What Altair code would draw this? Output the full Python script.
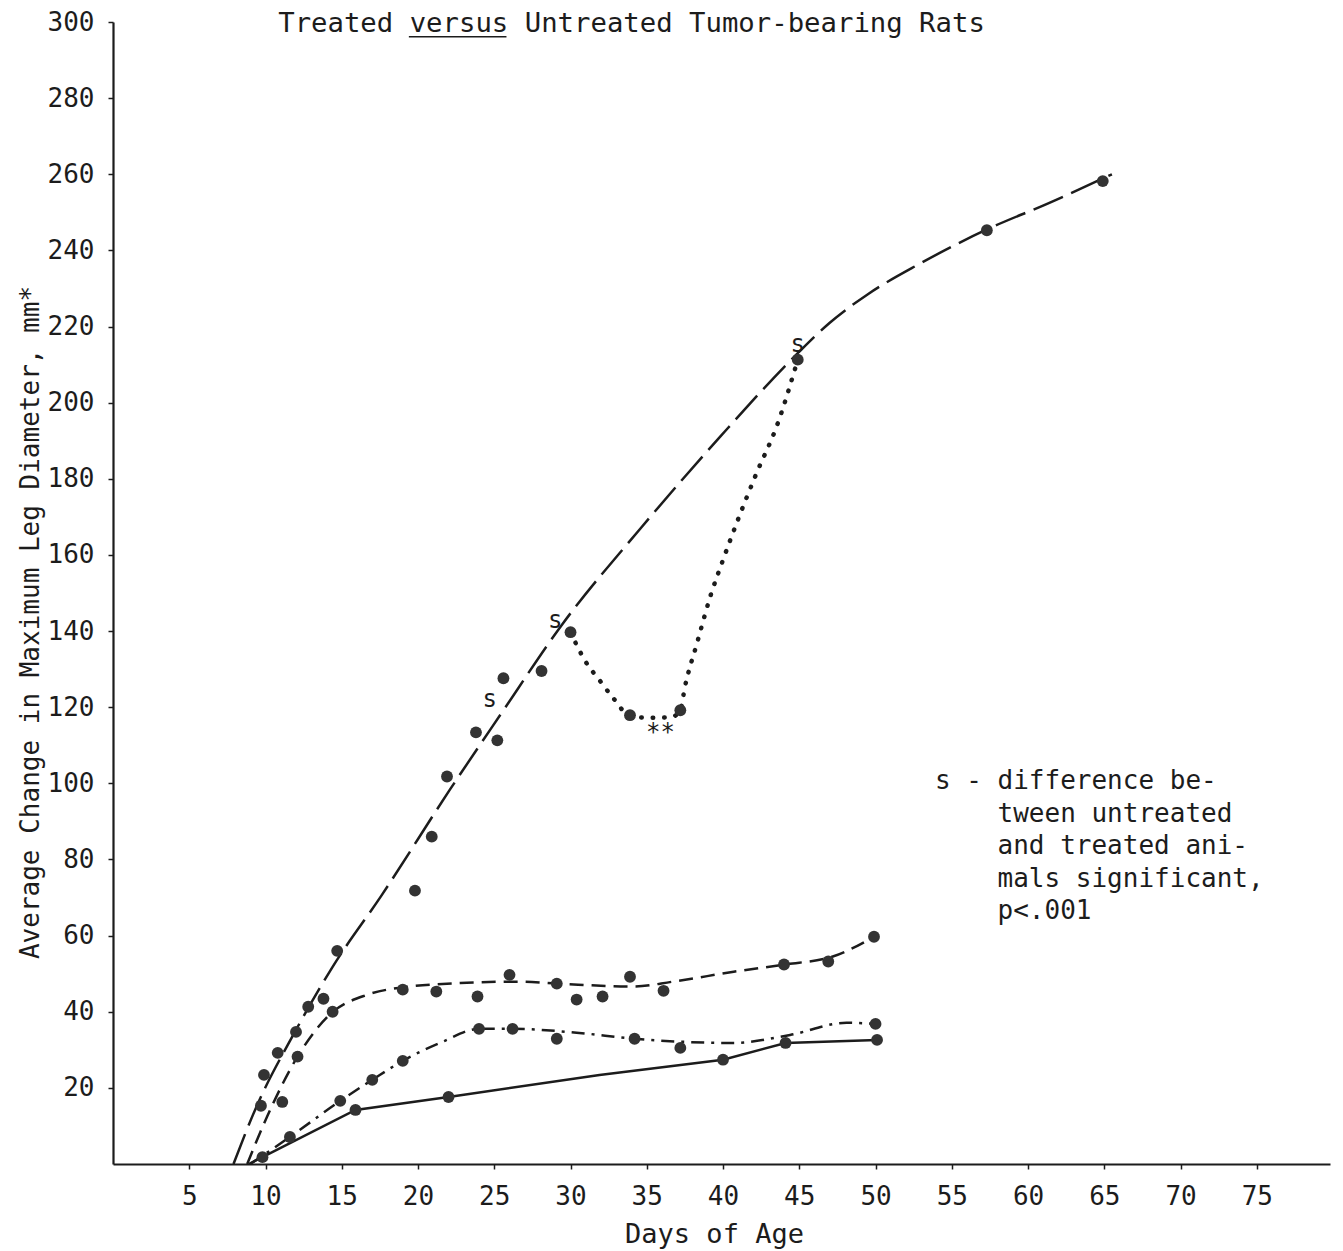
import altair as alt
import pandas as pd

# ---------------- data ----------------
# plotted points, grouped by curve
pts_long_days = [9.9, 10.8, 12.0, 12.8, 13.8, 14.7, 19.8, 20.9, 21.9, 23.8, 25.2, 25.6, 28.1, 30.0, 44.9, 57.3, 64.9]
pts_long_vals = [23.4, 29.2, 34.7, 41.3, 43.4, 56.0, 71.8, 86.0, 101.8, 113.4, 111.3, 127.6, 129.5, 139.7, 211.3, 245.3, 258.2]

pts_dotted_days = [33.9, 37.2]
pts_dotted_vals = [117.9, 119.2]

pts_short_days = [9.7, 11.1, 12.1, 14.4, 19.0, 21.2, 23.9, 26.0, 29.1, 30.4, 32.1, 33.9, 36.1, 44.0, 46.9, 49.9]
pts_short_vals = [15.3, 16.3, 28.2, 40.0, 45.8, 45.3, 44.0, 49.7, 47.4, 43.2, 44.0, 49.2, 45.5, 52.4, 53.2, 59.7]

pts_dashdot_days = [11.6, 14.9, 17.0, 19.0, 24.0, 26.2, 29.1, 34.2, 37.2, 50.0]
pts_dashdot_vals = [7.1, 16.6, 22.1, 27.1, 35.5, 35.5, 32.9, 32.9, 30.5, 36.8]

pts_solid_days = [9.8, 15.9, 22.0, 40.0, 44.1, 50.1]
pts_solid_vals = [1.8, 14.2, 17.6, 27.4, 31.8, 32.6]

# hand-fitted curves
curve_long_days = [7.9, 9.4, 11.9, 14.4, 17.6, 22.1, 25.4, 29.5, 34.6, 39.8, 44.9, 47.0, 49.5, 52.9, 57.3, 61.4, 65.5]
curve_long_vals = [0, 15, 34.5, 51.8, 70.5, 98.4, 118, 142, 167, 191, 213, 221, 228.5, 236.5, 245.5, 252.5, 260]

curve_dotted_days = [30.0, 31.0, 31.9, 32.8, 33.9, 35.3, 36.6, 37.2, 37.5, 38.3, 39.15, 40.0, 41.05, 42.2, 43.5, 44.9]
curve_dotted_vals = [139.7, 131.9, 127.1, 122.4, 117.7, 117.2, 117.4, 119.2, 125.3, 136.9, 148.9, 158.7, 170, 181.5, 193.6, 211.3]

curve_short_days = [8.8, 10.1, 12.1, 14.2, 16.7, 18.8, 23.2, 26.5, 29.1, 34.1, 36.7, 40.7, 44.0, 47.2, 49.9]
curve_short_vals = [0, 12.4, 28.2, 39.2, 44.5, 46.3, 47.6, 47.9, 47.4, 46.6, 47.9, 50.5, 52.4, 54.5, 59.7]

curve_dashdot_days = [9.0, 11.6, 14.9, 17.0, 19.0, 21.6, 24.0, 26.2, 30.4, 34.2, 40.7, 44.4, 48.1, 50.0]
curve_dashdot_vals = [0, 7.1, 16.6, 22.1, 27.1, 32.1, 35.5, 35.5, 34.5, 32.9, 31.8, 33.9, 37.1, 36.8]

curve_solid_days = [8.9, 9.8, 15.9, 22.0, 31.9, 40.0, 44.1, 50.1]
curve_solid_vals = [0, 1.8, 14.2, 17.6, 23.4, 27.4, 31.8, 32.6]

# axis ticks
x_ticks = [5, 10, 15, 20, 25, 30, 35, 40, 45, 50, 55, 60, 65, 70, 75]
y_ticks = [20, 40, 60, 80, 100, 120, 140, 160, 180, 200, 220, 240, 260, 280, 300]

# text
title_text = "Treated versus Untreated Tumor-bearing Rats"
y_title = "Average Change in Maximum Leg Diameter, mm*"
x_title = "Days of Age"
sig_days = [24.7, 29.0, 44.9]
sig_vals = [121.9, 142.6, 215.1]
star_day, star_val = 35.9, 113.2
note_lines = ["difference be-", "tween untreated", "and treated ani-", "mals significant,", "p<.001"]
note_day, note_val = 58.0, 100.6
note_key_day = 53.9
title_day, title_val = 34.0, 299.6
underline_days = [19.4, 25.8]
underline_val = 296.1

FONT = "DejaVu Sans Mono"
INK = "#1c1c1c"

xs = alt.Scale(domain=[0, 79.8], nice=False, zero=False)
ys = alt.Scale(domain=[0, 300], nice=False)

def X(field="day"):
    return alt.X(f"{field}:Q", scale=xs, axis=alt.Axis(
        values=x_ticks, title=x_title, grid=False, labelFontSize=26, labelFont=FONT,
        titleFont=FONT, titleFontSize=27, titleFontWeight="normal", titleColor=INK,
        labelColor=INK, domainColor=INK, domainWidth=2.2, tickColor=INK, tickWidth=1.5,
        tickSize=5, labelPadding=14, titleX=601, titleY=70, titleBaseline="middle",
        titleAlign="center", labelFlush=False))

def Y(field="value"):
    return alt.Y(f"{field}:Q", scale=ys, axis=alt.Axis(
        values=y_ticks, title=y_title, grid=False, labelFontSize=26, labelFont=FONT,
        titleFont=FONT, titleFontSize=26, titleFontWeight="normal", titleColor=INK,
        labelColor=INK, domainColor=INK, domainWidth=2.2, tickColor=INK, tickWidth=1.5,
        tickSize=5, labelPadding=14, titleX=-83, titleY=600, titleAngle=-90,
        titleBaseline="middle", titleAlign="center", labelFlush=False))

def curve(days, vals, dash, interp="monotone", width=2.5, cap="butt"):
    df = pd.DataFrame({"day": days, "value": vals})
    kw = dict(color=INK, strokeWidth=width, interpolate=interp, strokeCap=cap)
    if dash:
        kw["strokeDash"] = dash
    return alt.Chart(df).mark_line(**kw).encode(x=X(), y=Y(), order="day:Q")

lines = [
    curve(curve_long_days, curve_long_vals, [32, 9]),
    curve(curve_dotted_days, curve_dotted_vals, [0.5, 11], width=4.5, cap="round"),
    curve(curve_short_days, curve_short_vals, [14, 8]),
    curve(curve_dashdot_days, curve_dashdot_vals, [13, 7, 3, 7]),
    curve(curve_solid_days, curve_solid_vals, None, interp="linear"),
]

pts = pd.DataFrame({
    "day": pts_long_days + pts_dotted_days + pts_short_days + pts_dashdot_days + pts_solid_days,
    "value": pts_long_vals + pts_dotted_vals + pts_short_vals + pts_dashdot_vals + pts_solid_vals,
})
points = alt.Chart(pts).mark_circle(size=140, color="#333333", opacity=1).encode(x=X(), y=Y())

sig = pd.DataFrame({"day": sig_days, "value": sig_vals, "t": ["s"] * len(sig_days)})
sig_text = alt.Chart(sig).mark_text(font=FONT, fontSize=24, color=INK, baseline="middle").encode(
    x=X(), y=Y(), text="t:N")

star = pd.DataFrame({"day": [star_day], "value": [star_val], "t": ["**"]})
star_text = alt.Chart(star).mark_text(font=FONT, fontSize=24, color=INK, baseline="middle").encode(
    x=X(), y=Y(), text="t:N")

key = pd.DataFrame({"day": [note_key_day], "value": [note_val], "t": ["s -"]})
key_text = alt.Chart(key).mark_text(font=FONT, fontSize=26, color=INK, align="left",
                                    baseline="middle").encode(x=X(), y=Y(), text="t:N")

note = pd.DataFrame({"day": [note_day], "value": [note_val], "t": ["\n".join(note_lines)]})
note_text = alt.Chart(note).mark_text(font=FONT, fontSize=26, color=INK, align="left",
                                      baseline="middle", lineBreak="\n", lineHeight=32.5).encode(
    x=X(), y=Y(), text="t:N")

ttl = pd.DataFrame({"day": [title_day], "value": [title_val], "t": [title_text]})
ttl_text = alt.Chart(ttl).mark_text(font=FONT, fontSize=27.3, color=INK, baseline="middle").encode(
    x=X(), y=Y(), text="t:N")

ul = pd.DataFrame({"day": [underline_days[0]], "day2": [underline_days[1]], "value": [underline_val]})
underline = alt.Chart(ul).mark_rule(color=INK, strokeWidth=1.5).encode(
    x=X(), x2="day2:Q", y=Y())

chart = alt.layer(*lines, points, sig_text, star_text, key_text, note_text, ttl_text, underline).properties(
    width=1217, height=1142,
    autosize=alt.AutoSizeParams(type="none"),
    padding={"left": 105, "top": 14, "right": 5, "bottom": 88},
    background="white",
).configure_view(strokeWidth=0)

chart.save("out.html", embed_options={"renderer": "svg", "actions": False})
